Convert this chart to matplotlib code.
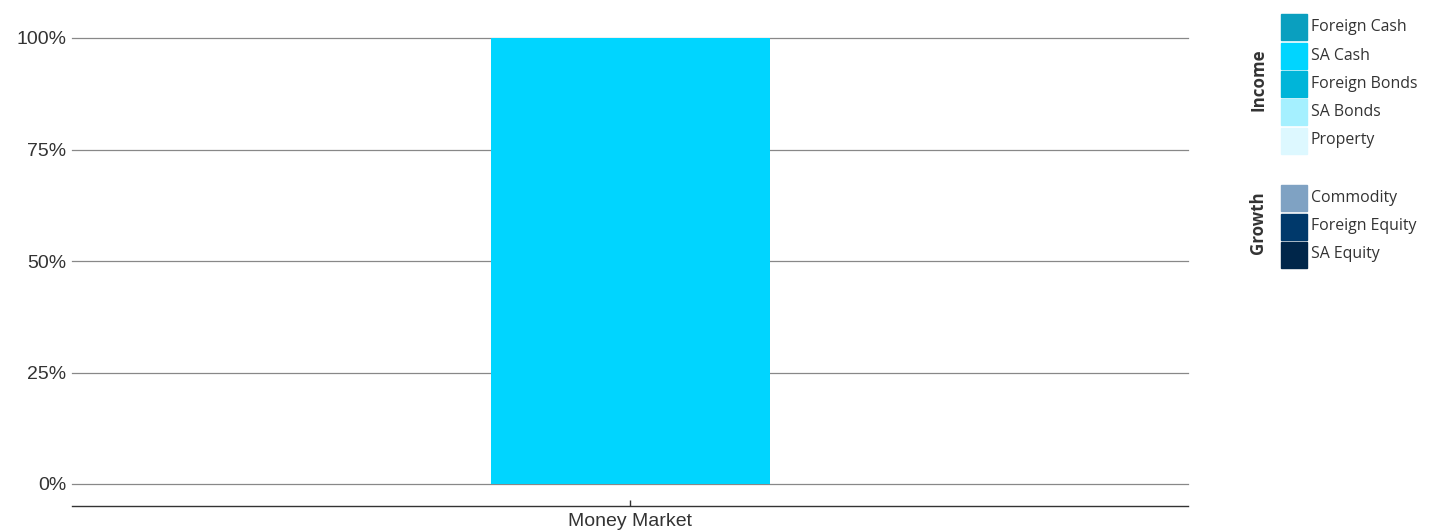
import matplotlib.pyplot as plt
from matplotlib.patches import Rectangle
import numpy as np

# data
categories = ["Money Market"]
series_names = ["Foreign Cash", "SA Cash", "Foreign Bonds", "SA Bonds", "Property",
                "Commodity", "Foreign Equity", "SA Equity"]
series_groups = ["Income", "Income", "Income", "Income", "Income",
                 "Growth", "Growth", "Growth"]
series_colors = ["#0A9FBF", "#00D5FF", "#00B5D9", "#A5F0FF", "#DDF8FF",
                 "#7FA2C3", "#00396B", "#00264A"]
# percentages per category, one list per series
values = [[0], [100], [0], [0], [0], [0], [0], [0]]
y_ticks = [0, 25, 50, 75, 100]
y_labels = ["0%", "25%", "50%", "75%", "100%"]

W, H = 1435, 532
fig = plt.figure(figsize=(W / 100, H / 100), dpi=100)

# main plot area (pixel layout from the reference)
ax_left, ax_right, ax_top, ax_bottom = 72, 1188, 38, 506
ax = fig.add_axes([ax_left / W, 1 - ax_bottom / H,
                   (ax_right - ax_left) / W, (ax_bottom - ax_top) / H])

x = np.arange(len(categories))
bottom = np.zeros(len(categories))
for name, col, vals in zip(series_names, series_colors, values):
    vals = np.array(vals, dtype=float)
    ax.bar(x, vals, width=1.0, bottom=bottom, color=col, zorder=3)
    bottom += vals

ax.set_xlim(-2, 2)
ax.set_ylim(-22 / 446 * 100, 100)
ax.set_yticks(y_ticks)
ax.set_yticklabels(y_labels, fontsize=14, color="#333333", family="Liberation Sans",
                   va="center_baseline")
ax.set_xticks(x)
ax.set_xticklabels(categories, fontsize=14, color="#333333", family="Liberation Sans")
ax.tick_params(axis="y", length=0, pad=4)
ax.tick_params(axis="x", direction="in", length=4, width=1, color="#333333", pad=5)
for s in ["top", "right", "left"]:
    ax.spines[s].set_visible(False)
ax.spines["bottom"].set_color("#333333")
ax.spines["bottom"].set_linewidth(1)
for t in y_ticks:
    ax.axhline(t, color="#888888", linewidth=0.9, zorder=1, clip_on=False)

# legend drawn in pixel coordinates
lax = fig.add_axes([0, 0, 1, 1])
lax.set_xlim(0, W)
lax.set_ylim(H, 0)
lax.axis("off")
row_y = [27, 55.5, 84, 112, 140.5, 198, 226.5, 254.5]
for yc, name, col in zip(row_y, series_names, series_colors):
    lax.add_patch(Rectangle((1281, yc - 13), 26, 26, color=col))
    lax.text(1311, yc, name, fontsize=11.4, family="Open Sans", color="#333333",
             va="center", ha="left")
group_y = {"Income": 80, "Growth": 222.5}
for grp, gy in group_y.items():
    lax.text(1258.5, gy, grp, rotation=90, fontsize=12.2,
             family="Open Sans", fontweight="bold", color="#333333",
             ha="center", va="center")

fig.savefig("out.png", dpi=100)
